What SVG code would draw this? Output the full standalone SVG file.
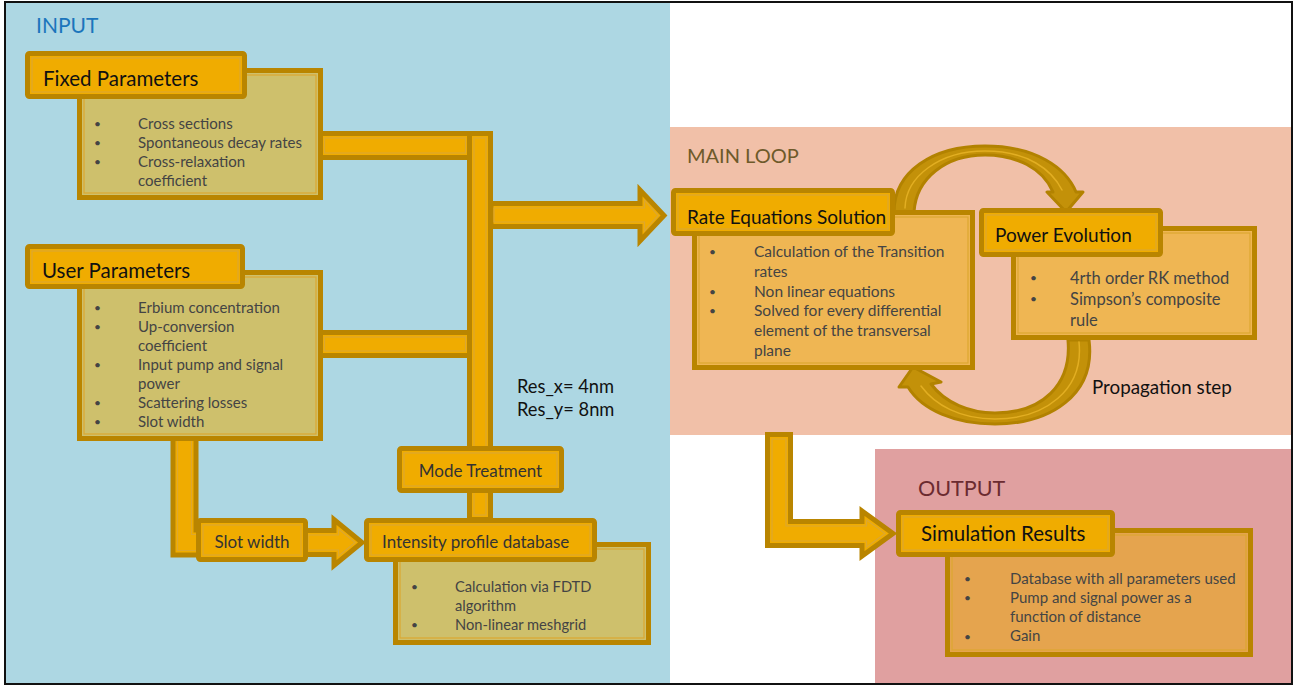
<svg xmlns="http://www.w3.org/2000/svg" width="1297" height="686" viewBox="0 0 1297 686">
<style>
text{font-family:Lato,"Open Sans","Liberation Sans",sans-serif}
.hdr{fill:#F0AC00;stroke:#B98500;stroke-width:5}
.in{fill:none;stroke:#DCA730;stroke-width:1.2}
.bk{fill:#CEC06C;stroke:#B98500;stroke-width:5}
.bo{fill:#EFB653;stroke:#B98500;stroke-width:5}
.br{fill:#E5A44E;stroke:#B98500;stroke-width:5}
.conn{fill:#F0AC00;stroke:#B98500;stroke-width:5;stroke-linejoin:miter}
.arc{fill:#C39109;stroke:#B28200;stroke-width:3;stroke-linejoin:round}
.arcin{fill:none;stroke:#E2AE22;stroke-width:1.5;stroke-linecap:round}
.ht{font-size:20.5px;fill:#111}
.bt{font-size:15px;fill:#444}
.bu{font-size:12px;fill:#444}
.lt{font-size:17px;fill:#333}
</style>
<rect x="0" y="0" width="1297" height="686" fill="#fff"/>
<g id="panels">
<rect x="6" y="3" width="664" height="680" fill="#ADD7E3"/>
<rect x="670" y="127" width="622" height="308" fill="#F1C0A8"/>
<rect x="875" y="449" width="417" height="234" fill="#E0A0A0"/>
<rect x="5" y="2" width="1287" height="682" fill="none" stroke="#111" stroke-width="2"/>
<text x="36" y="33" style="font-size:21px;fill:#1B75BC">INPUT</text>
<text x="687" y="163" style="font-size:20px;fill:#6E5A2A">MAIN LOOP</text>
<text x="918" y="496" style="font-size:21.5px;fill:#6B2B30">OUTPUT</text>
</g>
<g id="connectors">
<rect class="conn" x="320" y="133.5" width="150" height="24"/>
<rect class="in" x="324.5" y="138" width="141" height="15"/>
<rect class="conn" x="320" y="332.5" width="150" height="23"/>
<rect class="in" x="324.5" y="337" width="141" height="14"/>
<path class="conn" d="M491 203.5 L640 203.5 L640 190 L664 215.5 L640 241 L640 226.5 L491 226.5 Z"/>
<path class="in" d="M494 208 L644.5 208 L644.5 200 L658 215.5 L644.5 231 L644.5 222 L494 222 Z"/>
<rect class="conn" x="469.5" y="133.5" width="21" height="386"/>
<rect class="in" x="474" y="138" width="12" height="377"/>
<path class="conn" d="M173 437 L196 437 L196 530 L210 530 L210 555 L173 555 Z"/>
<path class="in" d="M177.5 440 L191.5 440 L191.5 534.5 L205 534.5 L205 550.5 L177.5 550.5 Z"/>
<path class="conn" d="M305 530.5 L334 530.5 L334 519.5 L362 542.5 L334 565.5 L334 554.5 L305 554.5 Z"/>
<path class="in" d="M308 535 L338.5 535 L338.5 529 L355 542.5 L338.5 556 L338.5 550 L308 550 Z"/>
<path class="conn" d="M767.5 434.5 L790.5 434.5 L790.5 521.5 L862 521.5 L862 511 L893 533.5 L862 556 L862 545.5 L767.5 545.5 Z"/>
<path class="in" d="M772 439 L786 439 L786 526 L866.5 526 L866.5 520 L885 533.5 L866.5 547 L866.5 541 L772 541 Z"/>
<path class="arc" d="M894 212 C894 172 932 146 985 146 C1036 146 1066 168 1076 192 L1083 192 L1066 212 L1047 192 L1053 192 C1043 168 1016 155 985 155 C946 155 916 178 914 212 Z"/>
<path class="arcin" d="M905 208 C906 176 940 151 985 151 C1028 151 1052 170 1062 190"/>
<path class="arc" d="M1089 340 C1096 395 1050 424 995 424 C955 424 922 410 908 387 L899 387 L913 367 L941 382 L931 384 C945 403 970 413 995 413 C1042 413 1072 385 1068 340 Z"/>
<path class="arcin" d="M1079 342 C1084 390 1045 419 995 419 C960 419 935 405 921 386"/>
</g>
<g id="fixed-parameters">
<rect class="bk" x="79.5" y="70.5" width="241" height="127"/>
<rect class="in" x="84" y="75" width="232" height="118"/>
<rect class="hdr" x="27.5" y="53.5" width="217" height="43" rx="2"/>
<rect class="in" x="32" y="58" width="208" height="34"/>
<text class="ht" x="43" y="86">Fixed Parameters</text>
<text class="bu" x="94" y="128">•</text><text class="bt" x="138" y="129">Cross sections</text>
<text class="bu" x="94" y="147">•</text><text class="bt" x="138" y="148">Spontaneous decay rates</text>
<text class="bu" x="94" y="166">•</text><text class="bt" x="138" y="167">Cross-relaxation</text>
<text class="bt" x="138" y="186">coefficient</text>
</g>
<g id="user-parameters">
<rect class="bk" x="79.5" y="272.5" width="241" height="166"/>
<rect class="in" x="84" y="277" width="232" height="157"/>
<rect class="hdr" x="27.5" y="246.5" width="215" height="40" rx="2"/>
<rect class="in" x="32" y="251" width="206" height="31"/>
<text class="ht" x="42" y="278">User Parameters</text>
<text class="bu" x="94" y="312">•</text><text class="bt" x="138" y="313">Erbium concentration</text>
<text class="bu" x="94" y="331">•</text><text class="bt" x="138" y="332">Up-conversion</text>
<text class="bt" x="138" y="351">coefficient</text>
<text class="bu" x="94" y="369">•</text><text class="bt" x="138" y="370">Input pump and signal</text>
<text class="bt" x="138" y="389">power</text>
<text class="bu" x="94" y="407">•</text><text class="bt" x="138" y="408">Scattering losses</text>
<text class="bu" x="94" y="426">•</text><text class="bt" x="138" y="427">Slot width</text>
</g>
<g id="mode-treatment">
<rect class="hdr" x="399.5" y="448.5" width="162" height="42" rx="2"/>
<rect class="in" x="404" y="453" width="153" height="33"/>
<text class="lt" x="480.5" y="477" text-anchor="middle">Mode Treatment</text>
</g>
<g id="slot-width">
<rect class="hdr" x="198.5" y="520.5" width="107" height="39" rx="2"/>
<rect class="in" x="203" y="525" width="98" height="30"/>
<text class="lt" x="252" y="548" text-anchor="middle">Slot width</text>
</g>
<g id="intensity-profile-database">
<rect class="bk" x="395.5" y="544.5" width="253" height="98"/>
<rect class="in" x="400" y="549" width="244" height="89"/>
<rect class="hdr" x="366.5" y="520.5" width="228" height="39" rx="2"/>
<rect class="in" x="371" y="525" width="219" height="30"/>
<text class="lt" x="382" y="548">Intensity profile database</text>
<text class="bu" x="411" y="591">•</text><text class="bt" x="455" y="592" style="font-size:14.7px">Calculation via FDTD</text>
<text class="bt" x="455" y="611" style="font-size:14.7px">algorithm</text>
<text class="bu" x="411" y="629">•</text><text class="bt" x="455" y="630" style="font-size:14.7px">Non-linear meshgrid</text>
</g>
<g id="resolution">
<text x="517" y="393" style="font-size:18.3px;fill:#111">Res_x= 4nm</text>
<text x="517" y="416" style="font-size:18.3px;fill:#111">Res_y= 8nm</text>
</g>
<g id="rate-equations-solution">
<rect class="bo" x="694.5" y="212.5" width="278" height="155"/>
<rect class="in" x="699" y="217" width="269" height="146"/>
<rect class="hdr" x="673.5" y="190.5" width="219" height="43" rx="2"/>
<rect class="in" x="678" y="195" width="210" height="34"/>
<text class="ht" x="687" y="224" style="font-size:19px">Rate Equations Solution</text>
<text class="bu" x="709" y="256">•</text><text class="bt" x="754" y="257" style="font-size:15.5px">Calculation of the Transition</text>
<text class="bt" x="754" y="277" style="font-size:15.5px">rates</text>
<text class="bu" x="709" y="296">•</text><text class="bt" x="754" y="297" style="font-size:15.5px">Non linear equations</text>
<text class="bu" x="709" y="315">•</text><text class="bt" x="754" y="316" style="font-size:15.5px">Solved for every differential</text>
<text class="bt" x="754" y="336" style="font-size:15.5px">element of the transversal</text>
<text class="bt" x="754" y="356" style="font-size:15.5px">plane</text>
</g>
<g id="power-evolution">
<rect class="bo" x="1013.5" y="228.5" width="241" height="109"/>
<rect class="in" x="1018" y="233" width="232" height="100"/>
<rect class="hdr" x="981.5" y="210.5" width="179" height="44" rx="2"/>
<rect class="in" x="986" y="215" width="170" height="35"/>
<text class="ht" x="995" y="242" style="font-size:19px">Power Evolution</text>
<text class="bu" x="1030" y="282">•</text><text class="bt" x="1070" y="284" style="font-size:16.5px">4rth order RK method</text>
<text class="bu" x="1030" y="303">•</text><text class="bt" x="1070" y="305" style="font-size:16.5px">Simpson’s composite</text>
<text class="bt" x="1070" y="326" style="font-size:16.5px">rule</text>
</g>
<g id="propagation-step">
<text x="1092" y="394" style="font-size:18.8px;fill:#111">Propagation step</text>
</g>
<g id="simulation-results">
<rect class="br" x="947.5" y="530.5" width="303" height="124"/>
<rect class="in" x="952" y="535" width="294" height="115"/>
<rect class="hdr" x="898.5" y="512.5" width="214" height="42" rx="2"/>
<rect class="in" x="903" y="517" width="205" height="33"/>
<text class="ht" x="921" y="541" style="font-size:20.5px">Simulation Results</text>
<text class="bu" x="964" y="583">•</text><text class="bt" x="1010" y="584">Database with all parameters used</text>
<text class="bu" x="964" y="602">•</text><text class="bt" x="1010" y="603">Pump and signal power as a</text>
<text class="bt" x="1010" y="622">function of distance</text>
<text class="bu" x="964" y="641">•</text><text class="bt" x="1010" y="641">Gain</text>
</g>
</svg>
